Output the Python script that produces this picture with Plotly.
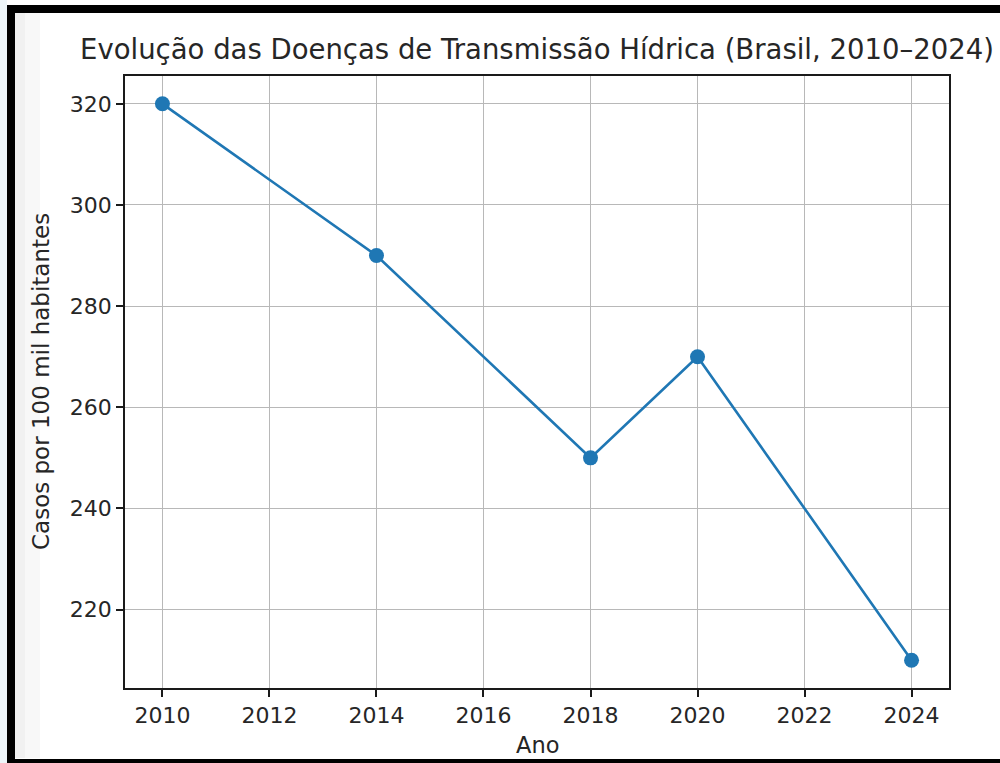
import plotly.graph_objects as go

anos = [2010, 2014, 2018, 2020, 2024]
casos = [320, 290, 250, 270, 210]
x_ticks = [2010, 2012, 2014, 2016, 2018, 2020, 2022, 2024]
y_ticks = [220, 240, 260, 280, 300, 320]

titulo = "Evolução das Doenças de Transmissão Hídrica (Brasil, 2010–2024)"
x_label = "Ano"
y_label = "Casos por 100 mil habitantes"

W, H = 1000, 763
L, R, T, B = 125, 949, 76, 688  # plot area in pixels
FONT = "DejaVu Sans"
TXT = "#262626"


def px(x):
    return (x - L) / (R - L)


def py(y):
    return (B - y) / (B - T)


fig = go.Figure()
fig.add_trace(go.Scatter(
    x=anos, y=casos, mode="lines+markers",
    line=dict(color="#1f77b4", width=2.6),
    marker=dict(color="#1f77b4", size=15, line=dict(width=0)),
    cliponaxis=False, showlegend=False,
))

axis_common = dict(
    showgrid=True, gridcolor="#b8b8b8", gridwidth=1.4,
    showline=True, linecolor="#1a1a1a", linewidth=1.6, mirror=True,
    ticks="outside", ticklen=7, tickwidth=1.6, tickcolor="#1a1a1a",
    tickfont=dict(family=FONT, size=22, color=TXT),
    zeroline=False,
)

fig.update_xaxes(range=[2009.3, 2024.7], tickvals=x_ticks,
                 ticktext=[str(v) for v in x_ticks], **axis_common)
fig.update_yaxes(range=[204.5, 325.5], tickvals=y_ticks,
                 ticktext=[str(v) for v in y_ticks], **axis_common)

shapes = [
    # light strip left of frame
    dict(type="rect", xref="paper", yref="paper", x0=px(0), x1=px(7), y0=py(H), y1=py(0),
         fillcolor="#eef5f9", line=dict(width=0), layer="below"),
    # soft gradient inside left edge
    dict(type="rect", xref="paper", yref="paper", x0=px(15), x1=px(25), y0=py(758), y1=py(13),
         fillcolor="#f1f1f1", line=dict(width=0), layer="below"),
    dict(type="rect", xref="paper", yref="paper", x0=px(25), x1=px(40), y0=py(758), y1=py(13),
         fillcolor="#f8f8f8", line=dict(width=0), layer="below"),
    # black frame bands
    dict(type="rect", xref="paper", yref="paper", x0=px(7), x1=px(15), y0=py(H), y1=py(5),
         fillcolor="black", line=dict(width=0)),
    dict(type="rect", xref="paper", yref="paper", x0=px(7), x1=px(W), y0=py(13), y1=py(5),
         fillcolor="black", line=dict(width=0)),
    dict(type="rect", xref="paper", yref="paper", x0=px(7), x1=px(W), y0=py(H), y1=py(759),
         fillcolor="black", line=dict(width=0)),
]

annotations = [
    dict(text=x_label, xref="paper", yref="paper", x=px(537), y=py(745),
         xanchor="center", yanchor="middle", showarrow=False,
         font=dict(family=FONT, size=22.5, color=TXT)),
    dict(text=y_label, xref="paper", yref="paper", x=px(41), y=py(382),
         xanchor="center", yanchor="middle", showarrow=False, textangle=-90,
         font=dict(family=FONT, size=23, color=TXT)),
]

fig.update_layout(
    width=W, height=H,
    margin=dict(l=L, r=W - R, t=T, b=H - B, pad=0),
    paper_bgcolor="white", plot_bgcolor="white",
    title=dict(text=titulo, x=px(537), xref="paper", xanchor="center",
               y=1 - 49 / H, yref="container", yanchor="middle",
               font=dict(family=FONT, size=27.5, color=TXT)),
    shapes=shapes, annotations=annotations,
)

fig.write_html("out.html", config={"displayModeBar": False},
               post_script="document.body.style.margin='0';document.body.style.overflow='hidden';")
